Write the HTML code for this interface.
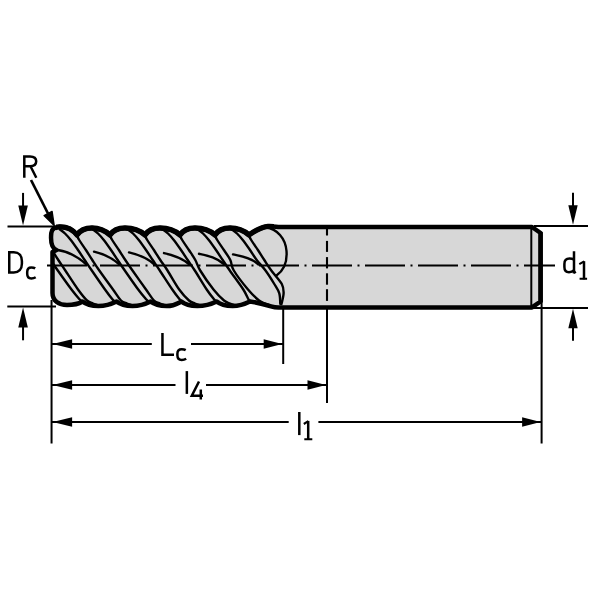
<!DOCTYPE html>
<html><head><meta charset="utf-8"><style>
html,body{margin:0;padding:0;background:#fff;}
svg{display:block;}
</style></head><body>
<svg width="600" height="600" viewBox="0 0 600 600">
<rect width="600" height="600" fill="#fff"/>
<defs><clipPath id="cp"><path d="M56.5,250 C51.2,248 50.6,240 51.3,233 C51.8,228.5 54.5,227 59.5,226.8 C66,226.6 72.5,229 77,235 C80,230.5 85,228 92,228 C100,228 105,230.5 110,235 C113,230.5 118,228 125,228 C133,228 140,230.5 145,235 C148,230.5 153,228 160,228 C168,228 175,230.5 180,235 C183,230.5 188,228 195,228 C203,228 210,230.5 215,235 C218,230.5 223,228 230,228 C238,228 244,230.5 249,235 C254,231.5 260,227 268,226.4 C272,226.2 276,226.8 280,227 L532,227 L540.6,233 L540.6,301.5 L532,307.4 L281,307.4 C278,307.8 275,307.6 271,306.4 C264,304.3 255,302.2 250,301.5 C246,303.5 240.7,306 232.7,306 C225.7,306 219.7,304 216.7,301.5 C212.7,303.5 205.3,306 197.3,306 C190.3,306 184.3,304 181.3,301.5 C177.3,303.5 174.7,306 166.7,306 C159.7,306 153.7,304 150.7,301.5 C146.7,303.5 140.6,306 132.6,306 C125.6,306 119.6,304 116.6,301.5 C112.6,303.5 106.5,306 98.5,306 C91.5,306 85.5,304 82.5,301.5 C78.5,304 74,305 67,305 C59,305 52.5,301 52.5,293 L52.5,252 Z"/></clipPath><clipPath id="topc"><rect x="56" y="200" width="218" height="45"/></clipPath></defs>
<path d="M56.5,250 C51.2,248 50.6,240 51.3,233 C51.8,228.5 54.5,227 59.5,226.8 C66,226.6 72.5,229 77,235 C80,230.5 85,228 92,228 C100,228 105,230.5 110,235 C113,230.5 118,228 125,228 C133,228 140,230.5 145,235 C148,230.5 153,228 160,228 C168,228 175,230.5 180,235 C183,230.5 188,228 195,228 C203,228 210,230.5 215,235 C218,230.5 223,228 230,228 C238,228 244,230.5 249,235 C254,231.5 260,227 268,226.4 C272,226.2 276,226.8 280,227 L532,227 L540.6,233 L540.6,301.5 L532,307.4 L281,307.4 C278,307.8 275,307.6 271,306.4 C264,304.3 255,302.2 250,301.5 C246,303.5 240.7,306 232.7,306 C225.7,306 219.7,304 216.7,301.5 C212.7,303.5 205.3,306 197.3,306 C190.3,306 184.3,304 181.3,301.5 C177.3,303.5 174.7,306 166.7,306 C159.7,306 153.7,304 150.7,301.5 C146.7,303.5 140.6,306 132.6,306 C125.6,306 119.6,304 116.6,301.5 C112.6,303.5 106.5,306 98.5,306 C91.5,306 85.5,304 82.5,301.5 C78.5,304 74,305 67,305 C59,305 52.5,301 52.5,293 L52.5,252 Z" fill="#d7d7d7" stroke="none"/>
<g stroke="#000" stroke-width="2.1" fill="none">
<line x1="327" y1="228" x2="327" y2="235.5"/>
<line x1="327" y1="240.9" x2="327" y2="251.9"/>
<line x1="327" y1="257.1" x2="327" y2="268.4"/>
<line x1="327" y1="273.3" x2="327" y2="284.7"/>
<line x1="327" y1="289.2" x2="327" y2="300.9"/>
</g>
<g stroke="#000" stroke-width="2.4" fill="none" stroke-linecap="round" stroke-linejoin="round" clip-path="url(#cp)">
<path d="M26,229.6 C26.83,230.25 29.2,231.77 31,233.5 C32.8,235.23 34.63,237.25 36.8,240 C38.97,242.75 41.68,246.67 44,250 C46.32,253.33 48.4,256.58 50.7,260 C53,263.42 54.33,265.58 57.8,270.5 C61.27,275.42 67.88,284.7 71.5,289.5 C75.12,294.3 77.75,297.3 79.5,299.3 C81.25,301.3 81.58,301.13 82,301.5"/>
<path d="M42.5,234.5 C42.95,235.42 43.63,237.42 45.2,240 C46.77,242.58 49.72,246.67 51.9,250 C54.08,253.33 56.07,256.58 58.3,260 C60.53,263.42 62.02,265.58 65.3,270.5 C68.58,275.42 74.38,284.5 78,289.5 C81.62,294.5 84.5,298.17 87,300.5 C89.5,302.83 91.33,302.78 93,303.5 C94.67,304.22 96.33,304.58 97,304.8"/>
<path d="M60,229.6 C60.83,230.25 63.2,231.77 65,233.5 C66.8,235.23 68.63,237.25 70.8,240 C72.97,242.75 75.68,246.67 78,250 C80.32,253.33 82.4,256.58 84.7,260 C87,263.42 88.42,265.58 91.8,270.5 C95.18,275.42 101.57,284.7 105,289.5 C108.43,294.3 110.75,297.3 112.4,299.3 C114.05,301.3 114.48,301.13 114.9,301.5"/>
<path d="M76.5,234.5 C76.95,235.42 77.63,237.42 79.2,240 C80.77,242.58 83.72,246.67 85.9,250 C88.08,253.33 90.07,256.58 92.3,260 C94.53,263.42 95.85,265.58 99.3,270.5 C102.75,275.42 109.38,284.5 113,289.5 C116.62,294.5 118.67,298.17 121,300.5 C123.33,302.83 125.33,302.78 127,303.5 C128.67,304.22 130.33,304.58 131,304.8"/>
<path d="M57.8,250 C69,251.8 78.5,257.3 86.5,264.5"/>
<path d="M93,229.6 C93.83,230.25 96.2,231.77 98,233.5 C99.8,235.23 101.63,237.25 103.8,240 C105.97,242.75 108.68,246.67 111,250 C113.32,253.33 115.4,256.58 117.7,260 C120,263.42 121.38,265.58 124.8,270.5 C128.22,275.42 134.65,284.7 138.2,289.5 C141.75,294.3 144.37,297.3 146.1,299.3 C147.83,301.3 148.18,301.13 148.6,301.5"/>
<path d="M109.5,234.5 C109.95,235.42 110.63,237.42 112.2,240 C113.77,242.58 116.72,246.67 118.9,250 C121.08,253.33 123.03,256.58 125.3,260 C127.57,263.42 129.05,265.58 132.5,270.5 C135.95,275.42 142.42,284.5 146,289.5 C149.58,294.5 151.67,298.17 154,300.5 C156.33,302.83 158.33,302.78 160,303.5 C161.67,304.22 163.33,304.58 164,304.8"/>
<path d="M94,251.66 C102,253.46 111.5,257.3 119.5,264.5"/>
<path d="M128,229.6 C128.83,230.25 131.2,231.77 133,233.5 C134.8,235.23 136.63,237.25 138.8,240 C140.97,242.75 143.68,246.67 146,250 C148.32,253.33 150.4,256.58 152.7,260 C155,263.42 156.53,265.58 159.8,270.5 C163.07,275.42 169,284.7 172.3,289.5 C175.6,294.3 177.97,297.3 179.6,299.3 C181.23,301.3 181.68,301.13 182.1,301.5"/>
<path d="M144.5,234.5 C144.95,235.42 145.63,237.42 147.2,240 C148.77,242.58 151.72,246.67 153.9,250 C156.08,253.33 158.03,256.58 160.3,260 C162.57,263.42 164.35,265.58 167.5,270.5 C170.65,275.42 175.62,284.5 179.2,289.5 C182.78,294.5 186.37,298.17 189,300.5 C191.63,302.83 193.33,302.78 195,303.5 C196.67,304.22 198.33,304.58 199,304.8"/>
<path d="M129,252.36 C137,254.16 146.5,257.3 154.5,264.5"/>
<path d="M163,229.6 C163.83,230.25 166.2,231.77 168,233.5 C169.8,235.23 171.63,237.25 173.8,240 C175.97,242.75 178.68,246.67 181,250 C183.32,253.33 185.4,256.58 187.7,260 C190,263.42 191.63,265.58 194.8,270.5 C197.97,275.42 203.5,284.7 206.7,289.5 C209.9,294.3 212.37,297.3 214,299.3 C215.63,301.3 216.08,301.13 216.5,301.5"/>
<path d="M179.5,234.5 C179.95,235.42 180.63,237.42 182.2,240 C183.77,242.58 186.72,246.67 188.9,250 C191.08,253.33 193.42,256.58 195.3,260 C197.18,263.42 197.17,265.58 200.2,270.5 C203.23,275.42 209.53,284.5 213.5,289.5 C217.47,294.5 221.25,298.17 224,300.5 C226.75,302.83 228.33,302.78 230,303.5 C231.67,304.22 233.33,304.58 234,304.8"/>
<path d="M164,253.06 C172,254.86 181.5,257.3 189.5,264.5"/>
<path d="M198,229.6 C198.83,230.25 201.2,231.77 203,233.5 C204.8,235.23 206.63,237.25 208.8,240 C210.97,242.75 213.68,246.67 216,250 C218.32,253.33 220.4,256.58 222.7,260 C225,263.42 226.37,265.58 229.8,270.5 C233.23,275.42 240.18,284.7 243.3,289.5 C246.42,294.3 247.22,297.3 248.5,299.3 C249.78,301.3 250.58,301.13 251,301.5"/>
<path d="M214.5,234.5 C214.95,235.42 215.63,237.42 217.2,240 C218.77,242.58 221.72,246.67 223.9,250 C226.08,253.33 228.65,256.58 230.3,260 C231.95,263.42 230.85,265.58 233.8,270.5 C236.75,275.42 243.8,284.5 248,289.5 C252.2,294.5 256.17,298.17 259,300.5 C261.83,302.83 263.33,302.78 265,303.5 C266.67,304.22 268.33,304.58 269,304.8"/>
<path d="M199,253.76 C207,255.56 216.5,257.3 224.5,264.5"/>
<path d="M232,229.6 C232.83,230.25 235.2,231.77 237,233.5 C238.8,235.23 240.63,237.25 242.8,240 C244.97,242.75 247.68,246.67 250,250 C252.32,253.33 254.12,256.58 256.7,260 C259.28,263.42 262.57,266.5 265.5,270.5 C268.43,274.5 272,280.2 274.3,284 C276.6,287.8 278.3,289.97 279.3,293.3 C280.3,296.63 280.13,302.22 280.3,304"/>
<path d="M248.5,234.5 C248.95,235.42 249.63,237.42 251.2,240 C252.77,242.58 255.72,246.67 257.9,250 C260.08,253.33 262.07,256.58 264.3,260 C266.53,263.42 268.38,266.5 271.3,270.5 C274.22,274.5 279.75,280.2 281.8,284 C283.85,287.8 283.65,289.97 283.6,293.3 C283.55,296.63 281.85,302.22 281.5,304"/>
<path d="M233,254.44 C241,256.24 250.5,257.3 258.5,264.5"/>
<path d="M266,227.5 C277,229 285.5,238 286.5,251 C287.5,264 283,271 276.5,275.5"/>
</g>
<line x1="47" y1="265.6" x2="555" y2="265.6" stroke="#000" stroke-width="2" stroke-dasharray="40 5.5 2 5.5"/>
<path d="M56.5,250 C51.2,248 50.6,240 51.3,233 C51.8,228.5 54.5,227 59.5,226.8 C66,226.6 72.5,229 77,235 C80,230.5 85,228 92,228 C100,228 105,230.5 110,235 C113,230.5 118,228 125,228 C133,228 140,230.5 145,235 C148,230.5 153,228 160,228 C168,228 175,230.5 180,235 C183,230.5 188,228 195,228 C203,228 210,230.5 215,235 C218,230.5 223,228 230,228 C238,228 244,230.5 249,235 C254,231.5 260,227 268,226.4 C272,226.2 276,226.8 280,227 L532,227 L540.6,233 L540.6,301.5 L532,307.4 L281,307.4 C278,307.8 275,307.6 271,306.4 C264,304.3 255,302.2 250,301.5 C246,303.5 240.7,306 232.7,306 C225.7,306 219.7,304 216.7,301.5 C212.7,303.5 205.3,306 197.3,306 C190.3,306 184.3,304 181.3,301.5 C177.3,303.5 174.7,306 166.7,306 C159.7,306 153.7,304 150.7,301.5 C146.7,303.5 140.6,306 132.6,306 C125.6,306 119.6,304 116.6,301.5 C112.6,303.5 106.5,306 98.5,306 C91.5,306 85.5,304 82.5,301.5 C78.5,304 74,305 67,305 C59,305 52.5,301 52.5,293 L52.5,252 Z" fill="none" stroke="#000" stroke-width="4.5" stroke-linejoin="round"/>
<path d="M56.5,250 C51.2,248 50.6,240 51.3,233 C51.8,228.5 54.5,227 59.5,226.8 C66,226.6 72.5,229 77,235 C80,230.5 85,228 92,228 C100,228 105,230.5 110,235 C113,230.5 118,228 125,228 C133,228 140,230.5 145,235 C148,230.5 153,228 160,228 C168,228 175,230.5 180,235 C183,230.5 188,228 195,228 C203,228 210,230.5 215,235 C218,230.5 223,228 230,228 C238,228 244,230.5 249,235 C254,231.5 260,227 268,226.4 C272,226.2 276,226.8 280,227 L532,227 L540.6,233 L540.6,301.5 L532,307.4 L281,307.4 C278,307.8 275,307.6 271,306.4 C264,304.3 255,302.2 250,301.5 C246,303.5 240.7,306 232.7,306 C225.7,306 219.7,304 216.7,301.5 C212.7,303.5 205.3,306 197.3,306 C190.3,306 184.3,304 181.3,301.5 C177.3,303.5 174.7,306 166.7,306 C159.7,306 153.7,304 150.7,301.5 C146.7,303.5 140.6,306 132.6,306 C125.6,306 119.6,304 116.6,301.5 C112.6,303.5 106.5,306 98.5,306 C91.5,306 85.5,304 82.5,301.5 C78.5,304 74,305 67,305 C59,305 52.5,301 52.5,293 L52.5,252 Z" fill="none" stroke="#000" stroke-width="5.3" stroke-linejoin="round" clip-path="url(#topc)"/>
<g stroke="#000" fill="none">
<line x1="531.3" y1="227" x2="531.3" y2="307" stroke-width="2"/>
<line x1="540.6" y1="232" x2="540.6" y2="302" stroke-width="4.2"/>
</g>
<g stroke="#000" stroke-width="2" fill="none">
<line x1="7.5" y1="226.6" x2="55" y2="226.6"/>
<line x1="7.3" y1="306.6" x2="56" y2="306.6"/>
<line x1="534" y1="225.9" x2="588" y2="225.9"/>
<line x1="533" y1="307.9" x2="588" y2="307.9"/>
<line x1="51.55" y1="300" x2="51.55" y2="443.5"/>
<line x1="283.2" y1="308" x2="283.2" y2="364"/>
<line x1="327" y1="308" x2="327" y2="403"/>
<line x1="541.6" y1="300" x2="541.6" y2="443.5"/>
<line x1="52" y1="344.05" x2="151.8" y2="344.05"/>
<line x1="191" y1="344.05" x2="283" y2="344.05"/>
<line x1="52" y1="385" x2="175.5" y2="385"/>
<line x1="206" y1="385" x2="327" y2="385"/>
<line x1="52" y1="422" x2="288.7" y2="422"/>
<line x1="318.4" y1="422" x2="541" y2="422"/>
<line x1="23.05" y1="192.9" x2="23.05" y2="210"/>
<line x1="23.05" y1="325" x2="23.05" y2="340.3"/>
<line x1="573" y1="192.8" x2="573" y2="210"/>
<line x1="573" y1="325" x2="573" y2="340.7"/>
<line x1="31" y1="180" x2="48" y2="213.5" stroke-width="2.7"/>
</g>
<g fill="#000" stroke="none">
<path d="M23.05,225.6 L27.85,205.6 L18.25,205.6 Z"/>
<path d="M23.05,307.5 L18.25,327.5 L27.85,327.5 Z"/>
<path d="M573,224.8 L577.7,205.3 L568.3,205.3 Z"/>
<path d="M573,308.8 L568.3,328.3 L577.7,328.3 Z"/>
<path d="M54.2,225.5 L52.07,211.43 L44.05,215.52 Z" stroke="#000" stroke-width="1.4" stroke-linejoin="round"/>
<path d="M52.6,344.05 L72.1,348.75 L72.1,339.35 Z"/>
<path d="M282.2,344.05 L263.7,339.35 L263.7,348.75 Z"/>
<path d="M52.6,385 L72.1,389.7 L72.1,380.3 Z"/>
<path d="M326,385 L307.5,380.3 L307.5,389.7 Z"/>
<path d="M52.6,422 L72.1,426.7 L72.1,417.3 Z"/>
<path d="M540.6,422 L522.1,417.3 L522.1,426.7 Z"/>
</g>
<g stroke="#000" fill="none" stroke-width="2.5" stroke-linecap="butt" stroke-linejoin="miter">
<path d="M24.3,177.8 V156.4 H30 C34.2,156.4 36.2,158.6 36.2,161.35 C36.2,164.1 34.2,166.3 30,166.3 H24.3 M30.5,166.3 L36.3,177.8"/>
<path d="M9.25,251.1 V273.8 M8,252.3 H13.8 C18.8,252.3 21.9,255.6 21.9,261 V263.8 C21.9,269.2 18.8,272.5 13.8,272.5 H8"/>
<path d="M35.2,268.4 C34,267.6 32.8,267.4 31.3,267.4 C28.6,267.4 27.2,269 27.2,272 V273.8 C27.2,276.8 28.6,278.4 31.3,278.4 C32.8,278.4 34.2,278.1 35.7,277.2"/>
<path d="M574,251.2 V273.4 M574,259.6 C572.6,258.9 571,258.6 569.5,258.6 C566,258.6 564.4,260.5 564.4,264 V267 C564.4,270.5 566,272.2 569,272.2 C571,272.2 572.8,271.5 574,270.2 M574,271 L575.4,273.4"/>
<path d="M584,261.2 V279.4"/><path d="M579.6,278.8 H587.1 M584.2,261.4 L579.3,264.2" stroke-width="2.1"/>
<path d="M162.45,333.1 V354.7 H174"/>
<path d="M185.7,350.2 C184.5,349.5 183.3,349.3 181.7,349.3 C179,349.3 177.4,350.9 177.4,353.7 V355.3 C177.4,358.2 179,360 181.7,360 C183.3,360 184.7,359.7 186.2,358.8"/>
<path d="M186.85,371.1 V393.9"/>
<path d="M199,381.5 L191.8,395.8 H203 M200.8,389.4 V399.6"/>
<path d="M299.3,412 V435.1"/>
<path d="M308.2,420.9 V439.9"/><path d="M304.3,439.2 H312.3 M308.3,421.2 L303.8,424" stroke-width="2.1"/>
</g>
</svg>
</body></html>
